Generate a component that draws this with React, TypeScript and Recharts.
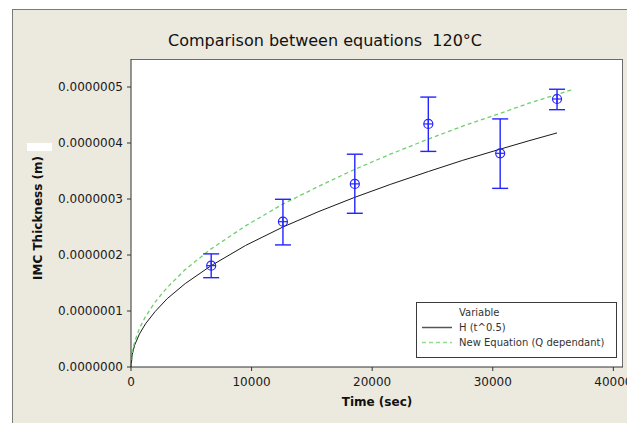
import { ComposedChart, Line, Scatter, ErrorBar, XAxis, YAxis, Legend } from 'recharts'

// H (t^0.5) curve
const hTime = [0, 100, 300, 700, 1200, 2000, 3000, 4500, 6650, 9500, 12600, 15500, 18560, 21500, 24655, 27500, 30615, 33000, 35330]
const hThick = [0, 0.22e-7, 0.39e-7, 0.59e-7, 0.77e-7, 0.99e-7, 1.22e-7, 1.49e-7, 1.81e-7, 2.17e-7, 2.5e-7, 2.77e-7, 3.03e-7, 3.26e-7, 3.49e-7, 3.69e-7, 3.89e-7, 4.04e-7, 4.18e-7]

// New Equation (Q dependant) curve
const qTime = [0, 100, 300, 700, 1200, 2000, 3000, 4500, 6650, 9500, 12600, 15500, 18560, 21500, 24655, 27500, 30615, 33000, 36700]
const qThick = [0, 0.26e-7, 0.45e-7, 0.69e-7, 0.9e-7, 1.16e-7, 1.42e-7, 1.74e-7, 2.11e-7, 2.52e-7, 2.91e-7, 3.22e-7, 3.53e-7, 3.8e-7, 4.07e-7, 4.3e-7, 4.53e-7, 4.71e-7, 4.96e-7]

// measured thickness with error bars
const obsTime = [6650, 12600, 18560, 24655, 30615, 35330]
const obsMean = [1.81e-7, 2.595e-7, 3.27e-7, 4.34e-7, 3.816e-7, 4.786e-7]
const obsUpper = [2.02e-7, 2.995e-7, 3.8e-7, 4.82e-7, 4.43e-7, 4.96e-7]
const obsLower = [1.595e-7, 2.18e-7, 2.745e-7, 3.85e-7, 3.19e-7, 4.595e-7]

const xTicks = [0, 10000, 20000, 30000, 40000]
const yTicks = [0, 1e-7, 2e-7, 3e-7, 4e-7, 5e-7]

const hData = hTime.map((t, i) => ({ t, v: hThick[i] }))
const qData = qTime.map((t, i) => ({ t, v: qThick[i] }))
const obsData = obsTime.map((t, i) => ({
  t,
  y: obsMean[i],
  err: [obsMean[i] - obsLower[i], obsUpper[i] - obsMean[i]],
}))

const font = '"DejaVu Sans", Verdana, sans-serif'
const blue = '#2424ff'

function CircleCross(props: any) {
  const { cx, cy } = props
  if (cx == null || cy == null) return null
  return (
    <g>
      <circle cx={cx} cy={cy} r={4.5} fill="none" stroke={blue} strokeWidth={1.2} />
      <line x1={cx - 4.5} y1={cy} x2={cx + 4.5} y2={cy} stroke={blue} strokeWidth={1.2} />
      <line x1={cx} y1={cy - 4.5} x2={cx} y2={cy + 4.5} stroke={blue} strokeWidth={1.2} />
    </g>
  )
}

function LegendBox() {
  const row = { display: 'flex', alignItems: 'center', height: 15 }
  return (
    <div
      style={{
        width: 199,
        height: 52,
        border: '1px solid #3a3a3a',
        background: '#fff',
        fontFamily: font,
        fontSize: 10,
        color: '#333',
        boxSizing: 'content-box',
        paddingTop: 2,
      }}
    >
      <div style={{ ...row, paddingLeft: 42 }}>Variable</div>
      <div style={row}>
        <svg width={42} height={15}>
          <line x1={5} y1={7.5} x2={35} y2={7.5} stroke="#555" strokeWidth={1.5} />
        </svg>
        <span>H (t^0.5)</span>
      </div>
      <div style={row}>
        <svg width={42} height={15}>
          <line x1={5} y1={7.5} x2={35} y2={7.5} stroke="#8fdc8f" strokeWidth={1.5} strokeDasharray="4 3" />
        </svg>
        <span>New Equation (Q dependant)</span>
      </div>
    </div>
  )
}

export default function App() {
  return (
    <div style={{ position: 'fixed', left: 0, top: 0, width: 627, height: 423, overflow: 'hidden', background: '#fff' }}>
      <div
        style={{
          position: 'absolute',
          left: 12,
          top: 9,
          width: 700,
          height: 500,
          background: '#ECE9DF',
          borderLeft: '1px solid #7a7a7a',
          borderTop: '1px solid #7a7a7a',
        }}
      />
      <div
        style={{
          position: 'absolute',
          left: 0,
          top: 31,
          width: 650,
          textAlign: 'center',
          fontFamily: font,
          fontSize: 16,
          color: '#111',
        }}
      >
        Comparison between equations&nbsp; 120°C
      </div>
      <div style={{ position: 'absolute', left: 131, top: 59, width: 491, height: 307, background: '#fff', borderTop: '1px solid #6b6b6b', borderRight: '1px solid #6b6b6b' }} />
      <div style={{ position: 'absolute', left: 27, top: 143, width: 25, height: 8, background: '#fff' }} />
      <div style={{ position: 'absolute', left: 0, top: 0 }}>
        <ComposedChart width={627} height={423} margin={{ top: 59, right: 4, bottom: 0, left: 0 }}>
          <XAxis
            type="number"
            dataKey="t"
            domain={[0, 40800]}
            ticks={xTicks}
            interval={0}
            height={56}
            tickSize={4}
            tickMargin={6}
            stroke="#333"
            tick={{ fill: '#1a1a1a', fontSize: 12, fontFamily: font }}
            label={{
              content: () => (
                <text x={377} y={406} textAnchor="middle" fontFamily={font} fontSize={12} fontWeight="bold" fill="#111">
                  Time (sec)
                </text>
              ),
            }}
          />
          <YAxis
            type="number"
            domain={[0, 5.5e-7]}
            ticks={yTicks}
            width={131}
            tickSize={4}
            tickMargin={4}
            stroke="#333"
            tickFormatter={(v: number) => v.toFixed(7)}
            tick={{ fill: '#1a1a1a', fontSize: 12, fontFamily: font }}
            label={{
              content: () => (
                <text
                  x={42}
                  y={218}
                  textAnchor="middle"
                  transform="rotate(-90 42 218)"
                  fontFamily={font}
                  fontSize={12}
                  fontWeight="bold"
                  fill="#111"
                >
                  IMC Thickness (m)
                </text>
              ),
            }}
          />
          <Line
            data={hData}
            dataKey="v"
            type="linear"
            stroke="#1a1a1a"
            strokeWidth={1}
            dot={false}
            isAnimationActive={false}
          />
          <Line
            data={qData}
            dataKey="v"
            type="linear"
            stroke="#6fcf6f"
            strokeWidth={1.3}
            strokeDasharray="4 3"
            dot={false}
            isAnimationActive={false}
          />
          <Scatter data={obsData} dataKey="y" shape={CircleCross} isAnimationActive={false}>
            <ErrorBar dataKey="err" direction="y" width={8} stroke={blue} strokeWidth={1.4} isAnimationActive={false} />
          </Scatter>
          <Legend
            layout="vertical"
            align="center"
            verticalAlign="middle"
            content={() => <LegendBox />}
            wrapperStyle={{ position: 'absolute', left: 416, top: 302, width: 201, height: 56 }}
          />
        </ComposedChart>
      </div>
    </div>
  )
}
